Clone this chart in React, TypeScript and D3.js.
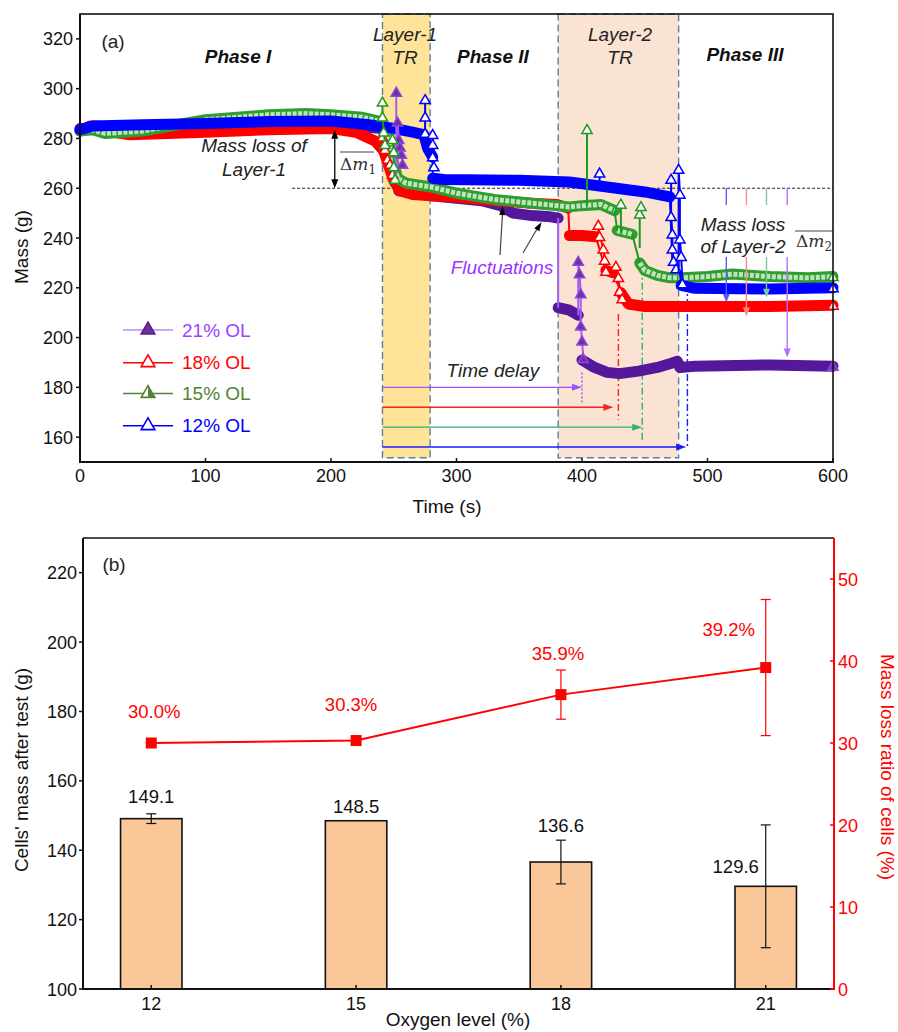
import React from "react";
import * as d3 from "d3";

type Pt = [number, number];

// ---------- panel (a): mass vs time ----------
const timeTicks = [0, 100, 200, 300, 400, 500, 600];
const massTicksA = [160, 180, 200, 220, 240, 260, 280, 300, 320];
const layer1TR: Pt = [241, 279];
const layer2TR: Pt = [381, 477];

// 21% OL
const purpleBand: Pt[][] = [
  [[0, 284], [100, 285], [200, 286], [240, 284]],
  [[254, 259], [280, 257], [320, 255], [335, 253], [345, 250], [360, 249], [375, 248.5], [381, 248]],
  [[381, 212], [390, 211], [397, 209]],
  [[400, 191], [410, 188], [420, 186], [430, 185.5], [445, 186.5], [460, 188], [470, 189.5], [476, 190.5], [478, 188], [490, 188.5], [550, 189], [600, 188.5]],
];
const purpleDrops: Pt[][] = [[[381, 248], [381, 212]]];
const purpleSpikes: Pt[][] = [
  [[252, 266], [252, 299]],
  [[253, 266], [253, 287], [254, 280], [255, 277], [256, 274], [257, 270]],
  [[397, 209], [397, 231], [398, 226], [399, 218], [399, 205], [400, 199], [401, 192]],
];

// 18% OL
const redBand: Pt[][] = [
  [[0, 283], [8, 285], [15, 285], [20, 283], [40, 281.5], [100, 282.5], [150, 283.5], [200, 284], [220, 282.5], [235, 279], [242, 275], [246, 269], [250, 263], [255, 259], [265, 257.5], [280, 257], [300, 256.5], [330, 255], [360, 254], [380, 253.5], [389, 252]],
  [[390, 241], [400, 241], [411, 240.5]],
  [[419, 227], [425, 226]],
  [[431, 218], [437, 213.5], [450, 212.5], [500, 212.5], [550, 212.5], [600, 213]],
];
const redDrops: Pt[][] = [[[389, 252], [390, 241]], [[411, 240.5], [419, 227]], [[425, 226], [431, 218]]];
const redSpikes: Pt[][] = [
  [[241, 276], [241, 281], [243, 276], [245, 272], [247, 270], [249, 266]],
  [[413, 240], [413, 245.5], [414, 241], [417, 236], [418, 231.5], [419, 227]],
  [[427, 226], [427, 229], [429, 224.5], [430, 219], [432, 216]],
];

// 15% OL
const greenBand: Pt[][] = [
  [[0, 283], [10, 283.5], [20, 282], [50, 283], [100, 287.5], [150, 289.5], [180, 290], [200, 289.5], [225, 288.5], [238, 287], [245, 282], [250, 270], [253, 264], [260, 262], [280, 260.5], [300, 258], [330, 255.5], [360, 254], [390, 252.5], [400, 253], [415, 253.5], [426, 251]],
  [[428, 243], [440, 241.5]],
  [[446, 230], [450, 227], [460, 225], [470, 224], [480, 224], [500, 224.5], [520, 225.5], [550, 224.5], [580, 224], [600, 224.5]],
];
const greenDrops: Pt[][] = [[[426, 251], [428, 243]], [[440, 241.5], [446, 230]]];
const greenSpikes: Pt[][] = [
  [[241, 287], [241, 295], [241, 289], [242, 283], [243, 278]],
  [[249, 282], [249, 280], [250, 275], [250, 269], [251, 264]],
  [[404, 253], [404, 284]],
  [[431, 242], [431, 254]],
  [[446, 236], [446, 250], [447, 253]],
];

// 12% OL
const blueBand: Pt[][] = [
  [[0, 283.5], [10, 285], [50, 285.5], [100, 286], [150, 286.8], [200, 287], [230, 285.5], [250, 284], [265, 282.5], [274, 281.5], [277, 276], [281, 272.5]],
  [[281, 264], [290, 263.5], [350, 263.2], [390, 262.5], [420, 260.5], [450, 258.5], [470, 256.5]],
  [[479, 221], [490, 219.8], [550, 219.5], [600, 220]],
];
const blueDrops: Pt[][] = [[[281, 272], [281, 264]], [[470, 256.5], [472, 230], [478, 226], [479, 221]]];
const blueSpikes: Pt[][] = [
  [[275, 281], [275, 296], [275, 289], [275, 282.5]],
  [[281, 270], [281, 282], [281, 278], [281, 273], [282, 269]],
  [[414, 261], [414, 266.5]],
  [[471, 256], [471, 264], [471, 249], [472, 242], [472, 236], [473, 231], [475, 228]],
  [[477, 226], [477, 268], [478, 258], [478, 240], [479, 233], [480, 222]],
];

// time delay arrows (21, 18, 15, 12 % OL)
const delayEnd = [400, 425, 448, 483];
const delayLevel = [180, 172, 164, 156];
const delayMarkT = [400, 429, 448, 484];
const delayMarkTop = [186, 209.5, 228, 221.5];
const delayMarkBottom = [174, 167, 158, 155.5];

// Layer-2 mass loss arrows (12, 18, 15, 21 % OL)
const dm2Time = [515, 531, 547, 563.5];
const dm2End = [214, 208.5, 216, 192];
const dm2Start = 260;

// ---------- panel (b) ----------
const oxygenLevels = [12, 15, 18, 21];
const cellMass = [149.1, 148.5, 136.6, 129.6];
const cellMassErr = [1.4, 0, 6.3, 17.7];
const lossRatio = [30.0, 30.3, 35.9, 39.2];
const lossRatioErr = [0, 0, 3.0, 8.3];
const massTicksB = [100, 120, 140, 160, 180, 200, 220];
const ratioTicks = [0, 10, 20, 30, 40, 50];

const FONT = "Liberation Sans, Arial, Helvetica, sans-serif";

function head(x1: number, y1: number, x2: number, y2: number, color: string, len = 8, wid = 6) {
  const a = Math.atan2(y2 - y1, x2 - x1);
  const bx = x2 - len * Math.cos(a);
  const by = y2 - len * Math.sin(a);
  const px = (-Math.sin(a) * wid) / 2;
  const py = (Math.cos(a) * wid) / 2;
  return <polygon points={`${x2},${y2} ${bx + px},${by + py} ${bx - px},${by - py}`} fill={color} />;
}

export default function App() {
  const xA = d3.scaleLinear().domain([0, 600]).range([80, 833]);
  const yA = d3.scaleLinear().domain([150, 330]).range([462, 14]);
  const line = d3.line<Pt>().x((d) => xA(d[0])).y((d) => yA(d[1]));
  const tri = d3.symbol().type(d3.symbolTriangle).size(46)() as string;
  const triBig = d3.symbol().type(d3.symbolTriangle).size(80)() as string;

  const series = [
    { band: purpleBand, drops: purpleDrops, spikes: purpleSpikes, color: "#56189a", thin: "#a060f0", mFill: "#7030a0", mStroke: "#8b45e0" },
    { band: redBand, drops: redDrops, spikes: redSpikes, color: "#ff0000", thin: "#ff0000", mFill: "#ffffff", mStroke: "#ff0000" },
    { band: greenBand, drops: greenDrops, spikes: greenSpikes, color: "#2f9e2f", thin: "#1f9a1f", mFill: "#ffffff", mStroke: "#1f9a1f", inner: "#bfe4bb" },
    { band: blueBand, drops: blueDrops, spikes: blueSpikes, color: "#0000ff", thin: "#0000ff", mFill: "#ffffff", mStroke: "#0000ff" },
  ];

  const legend = [
    { label: "21% OL", text: "#a040ff", line: "#c08af5", fill: "#7030a0", stroke: "#5a2090", half: false },
    { label: "18% OL", text: "#ff0000", line: "#ff0000", fill: "#ffffff", stroke: "#ff0000", half: false },
    { label: "15% OL", text: "#548235", line: "#548235", fill: "#ffffff", stroke: "#548235", half: true },
    { label: "12% OL", text: "#0000ff", line: "#0000ff", fill: "#ffffff", stroke: "#0000ff", half: false },
  ];
  const delayColors = ["#a050ff", "#ff2020", "#30b070", "#1a1aff"];
  const dm2Colors = ["#5a5aff", "#ff8a8a", "#7cc99a", "#b070ff"];

  const xB = d3.scaleLinear().domain([11, 22]).range([83, 834]);
  const yB = d3.scaleLinear().domain([100, 230]).range([989, 538]);
  const yR = d3.scaleLinear().domain([0, 55]).range([989, 538]);
  const barW = xB(0.9) - xB(0);
  const ratioLine = d3.line<number>().x((_, i) => xB(oxygenLevels[i])).y((d) => yR(d));
  const pctOffset: Pt[] = [[3, -25], [-5, -30], [-3, -35], [-37, -32]];
  const massLabelPos = (i: number): Pt =>
    i === 3 ? [xB(oxygenLevels[i]) - 30, yB(cellMass[i]) - 13] : [xB(oxygenLevels[i]), yB(cellMass[i] + cellMassErr[i]) - (i === 0 ? 11 : 8)];

  const boxBottom = yA(151.7);

  return (
    <svg width={898} height={1032} style={{ position: "absolute", left: 0, top: 0, display: "block" }} fontFamily={FONT}>
      <rect width={898} height={1032} fill="#fff" />

      {/* ===== panel (a) ===== */}
      {[layer1TR, layer2TR].map((r, i) => (
        <rect key={"trf" + i} x={xA(r[0])} y={yA(330)} width={xA(r[1]) - xA(r[0])} height={boxBottom - yA(330)} fill={i === 0 ? "#ffe399" : "#fbe3d3"} />
      ))}
      {[layer1TR, layer2TR].map((r, i) => (
        <rect key={"trb" + i} x={xA(r[0])} y={yA(330)} width={xA(r[1]) - xA(r[0])} height={boxBottom - yA(330)} fill="none" stroke="#5b7fa8" strokeWidth={1.4} strokeDasharray="7,4" />
      ))}

      {/* reference line at 260 g */}
      <line x1={xA(169)} x2={xA(600)} y1={yA(260)} y2={yA(260)} stroke="#222" strokeWidth={1} strokeDasharray="3,2" />

      {/* time delay arrows */}
      {delayEnd.map((t, i) => (
        <g key={"dl" + i}>
          <line x1={xA(layer1TR[0])} x2={xA(t) - 6} y1={yA(delayLevel[i])} y2={yA(delayLevel[i])} stroke={delayColors[i]} strokeWidth={1.4} />
          {head(xA(layer1TR[0]), yA(delayLevel[i]), xA(t), yA(delayLevel[i]), delayColors[i], 10, 7)}
          <line x1={xA(delayMarkT[i])} x2={xA(delayMarkT[i])} y1={yA(delayMarkTop[i])} y2={yA(delayMarkBottom[i])} stroke={delayColors[i]} strokeWidth={1.4} strokeDasharray={i === 0 ? "2,2" : "7,3,2,3"} />
        </g>
      ))}

      {/* series bands */}
      {series.map((s, si) => (
        <g key={"s" + si}>
          {s.band.map((seg, k) => (
            <path key={"b" + k} d={line(seg) as string} fill="none" stroke={s.color} strokeWidth={11} strokeLinejoin="round" strokeLinecap="round" />
          ))}
          {s.inner &&
            s.band.map((seg, k) => (
              <path key={"bi" + k} d={line(seg) as string} fill="none" stroke={s.inner} strokeWidth={5} strokeLinejoin="round" strokeDasharray="4,1.5" />
            ))}
          {s.drops.map((seg, k) => (
            <path key={"d" + k} d={line(seg) as string} fill="none" stroke={s.thin} strokeWidth={2} />
          ))}
        </g>
      ))}
      {series.map((s, si) => (
        <g key={"sp" + si}>
          {s.spikes.map((seg, k) => (
            <g key={"k" + k}>
              <path d={line(seg) as string} fill="none" stroke={s.thin} strokeWidth={2} />
              {seg.slice(1).map((p, j) => (
                <path key={j} d={tri} transform={`translate(${xA(p[0])},${yA(p[1]) + 2})`} fill={s.mFill} stroke={s.mStroke} strokeWidth={1.5} />
              ))}
            </g>
          ))}
          {(() => {
            const last = s.band[s.band.length - 1];
            const p = last[last.length - 1];
            return <path d={tri} transform={`translate(${xA(p[0])},${yA(p[1]) + 1})`} fill={s.mFill} stroke={s.mStroke} strokeWidth={1.5} />;
          })()}
        </g>
      ))}

      {/* Layer-2 mass loss arrows */}
      {dm2Time.map((t, i) => (
        <g key={"dm" + i}>
          <line x1={xA(t)} x2={xA(t)} y1={yA(dm2Start)} y2={yA(dm2End[i]) - 6} stroke={dm2Colors[i]} strokeWidth={1.4} />
          {head(xA(t), yA(dm2Start), xA(t), yA(dm2End[i]), dm2Colors[i], 9, 7)}
        </g>
      ))}
      <rect x={697} y={205} width={94} height={52} fill="#fff" />
      <text x={743} y={231} fontSize={19} fontStyle="italic" textAnchor="middle" fill="#222">Mass loss</text>
      <text x={743} y={253} fontSize={19} fontStyle="italic" textAnchor="middle" fill="#222">of Layer-2</text>
      <line x1={795} x2={833} y1={231} y2={231} stroke="#444" strokeWidth={1.2} />
      <text x={796} y={247} fontSize={17} fontFamily="DejaVu Serif, Liberation Serif, serif" fill="#333">
        Δ<tspan fontStyle="italic">m</tspan><tspan fontSize={12} dy={4}>2</tspan>
      </text>

      {/* Layer-1 mass loss */}
      <line x1={xA(203)} x2={xA(203)} y1={yA(283.5) + 8} y2={yA(260) - 8} stroke="#000" strokeWidth={1.3} />
      {head(xA(203), yA(260), xA(203), yA(283.5), "#000", 9, 7)}
      {head(xA(203), yA(283.5), xA(203), yA(260), "#000", 9, 7)}
      <text x={254} y={152} fontSize={19} fontStyle="italic" textAnchor="middle" fill="#222">Mass loss of</text>
      <text x={254} y={176} fontSize={19} fontStyle="italic" textAnchor="middle" fill="#222">Layer-1</text>
      <line x1={340} x2={374} y1={152} y2={152} stroke="#444" strokeWidth={1.2} />
      <text x={340} y={170} fontSize={17} fontFamily="DejaVu Serif, Liberation Serif, serif" fill="#333">
        Δ<tspan fontStyle="italic">m</tspan><tspan fontSize={12} dy={4}>1</tspan>
      </text>

      {/* fluctuations */}
      <line x1={500} y1={255} x2={502.5} y2={214} stroke="#444" strokeWidth={1.2} />
      {head(500, 255, 502.7, 206, "#000", 9, 6)}
      <line x1={523} y1={253} x2={537} y2={229} stroke="#444" strokeWidth={1.2} />
      {head(523, 253, 541.5, 222, "#000", 9, 6)}
      <text x={502} y={274} fontSize={19} fontStyle="italic" textAnchor="middle" fill="#9933ff">Fluctuations</text>
      <text x={493} y={377} fontSize={19} fontStyle="italic" textAnchor="middle" fill="#222">Time delay</text>

      {/* phase labels */}
      <text x={113} y={48} fontSize={19} textAnchor="middle" fill="#222">(a)</text>
      <text x={238} y={63} fontSize={19} fontWeight="bold" fontStyle="italic" textAnchor="middle" fill="#111">Phase I</text>
      <text x={405} y={41} fontSize={19} fontStyle="italic" textAnchor="middle" fill="#222">Layer-1</text>
      <text x={405} y={64} fontSize={19} fontStyle="italic" textAnchor="middle" fill="#222">TR</text>
      <text x={493} y={63} fontSize={19} fontWeight="bold" fontStyle="italic" textAnchor="middle" fill="#111">Phase II</text>
      <text x={620} y={41} fontSize={19} fontStyle="italic" textAnchor="middle" fill="#222">Layer-2</text>
      <text x={620} y={64} fontSize={19} fontStyle="italic" textAnchor="middle" fill="#222">TR</text>
      <text x={745} y={61} fontSize={19} fontWeight="bold" fontStyle="italic" textAnchor="middle" fill="#111">Phase III</text>

      {/* legend */}
      {legend.map((l, i) => {
        const y = [330, 362.7, 393.5, 425.7][i];
        return (
          <g key={"lg" + i}>
            <line x1={123} x2={173} y1={y} y2={y} stroke={l.line} strokeWidth={1.5} />
            <path d={triBig} transform={`translate(148,${y})`} fill={l.fill} stroke={l.stroke} strokeWidth={1.6} />
            {l.half && <path d="M148,-7.2 L154.6,4.2 L148,4.2 Z" transform={`translate(0,${y})`} fill={l.stroke} />}
            <text x={182} y={y + 6.5} fontSize={19} fill={l.text}>{l.label}</text>
          </g>
        );
      })}

      {/* axes (a) */}
      <rect x={80} y={14} width={753} height={448} fill="none" stroke="#111" strokeWidth={1.6} />
      <line x1={80} x2={80} y1={14} y2={463} stroke="#111" strokeWidth={2} />
      <line x1={79} x2={834} y1={462} y2={462} stroke="#111" strokeWidth={2} />
      {timeTicks.map((t) => (
        <g key={"xt" + t}>
          <line x1={xA(t)} x2={xA(t)} y1={462} y2={458} stroke="#111" strokeWidth={1.5} />
          <text x={xA(t)} y={482} fontSize={18} textAnchor="middle" fill="#111">{t}</text>
        </g>
      ))}
      {massTicksA.map((m) => (
        <g key={"yt" + m}>
          <line x1={76} x2={80} y1={yA(m)} y2={yA(m)} stroke="#111" strokeWidth={1.5} />
          <text x={73} y={yA(m) + 6.5} fontSize={18} textAnchor="end" fill="#111">{m}</text>
        </g>
      ))}
      <text x={447} y={513} fontSize={19} textAnchor="middle" fill="#111">Time (s)</text>
      <text transform="translate(28,247) rotate(-90)" fontSize={19} textAnchor="middle" fill="#111">Mass (g)</text>

      {/* ===== panel (b) ===== */}
      {oxygenLevels.map((o, i) => (
        <rect key={"bar" + i} x={xB(o) - barW / 2} y={yB(cellMass[i])} width={barW} height={yB(100) - yB(cellMass[i])} fill="#fac898" stroke="#111" strokeWidth={1.6} />
      ))}
      {oxygenLevels.map((o, i) =>
        cellMassErr[i] > 0 ? (
          <g key={"be" + i} stroke="#111" strokeWidth={1.2}>
            <line x1={xB(o)} x2={xB(o)} y1={yB(cellMass[i] + cellMassErr[i])} y2={yB(cellMass[i] - cellMassErr[i])} />
            <line x1={xB(o) - 5} x2={xB(o) + 5} y1={yB(cellMass[i] + cellMassErr[i])} y2={yB(cellMass[i] + cellMassErr[i])} />
            <line x1={xB(o) - 5} x2={xB(o) + 5} y1={yB(cellMass[i] - cellMassErr[i])} y2={yB(cellMass[i] - cellMassErr[i])} />
          </g>
        ) : null
      )}
      {cellMass.map((m, i) => {
        const [lx, ly] = massLabelPos(i);
        return (
          <text key={"bl" + i} x={lx} y={ly} fontSize={18.5} textAnchor="middle" fill="#111">{m.toFixed(1)}</text>
        );
      })}

      <path d={ratioLine(lossRatio) as string} fill="none" stroke="#ff0000" strokeWidth={2} />
      {oxygenLevels.map((o, i) =>
        lossRatioErr[i] > 0 ? (
          <g key={"re" + i} stroke="#ff0000" strokeWidth={1.2}>
            <line x1={xB(o)} x2={xB(o)} y1={yR(lossRatio[i] + lossRatioErr[i])} y2={yR(lossRatio[i] - lossRatioErr[i])} />
            <line x1={xB(o) - 5} x2={xB(o) + 5} y1={yR(lossRatio[i] + lossRatioErr[i])} y2={yR(lossRatio[i] + lossRatioErr[i])} />
            <line x1={xB(o) - 5} x2={xB(o) + 5} y1={yR(lossRatio[i] - lossRatioErr[i])} y2={yR(lossRatio[i] - lossRatioErr[i])} />
          </g>
        ) : null
      )}
      {oxygenLevels.map((o, i) => (
        <rect key={"rm" + i} x={xB(o) - 5.5} y={yR(lossRatio[i]) - 5.5} width={11} height={11} fill="#ff0000" />
      ))}
      {lossRatio.map((r, i) => (
        <text key={"rl" + i} x={xB(oxygenLevels[i]) + pctOffset[i][0]} y={yR(r) + pctOffset[i][1]} fontSize={18.5} textAnchor="middle" fill="#ff0000">
          {r.toFixed(1)}%
        </text>
      ))}

      {/* axes (b) */}
      <line x1={83} x2={834} y1={538} y2={538} stroke="#111" strokeWidth={1.6} />
      <line x1={83} x2={83} y1={538} y2={990} stroke="#111" strokeWidth={2} />
      <line x1={82} x2={834} y1={989} y2={989} stroke="#111" strokeWidth={2} />
      <line x1={834} x2={834} y1={538} y2={990} stroke="#ff0000" strokeWidth={2} />
      {oxygenLevels.map((o) => (
        <g key={"bx" + o}>
          <line x1={xB(o)} x2={xB(o)} y1={989} y2={985} stroke="#111" strokeWidth={1.5} />
          <text x={xB(o)} y={1010} fontSize={18} textAnchor="middle" fill="#111">{o}</text>
        </g>
      ))}
      {massTicksB.map((m) => (
        <g key={"by" + m}>
          <line x1={79} x2={83} y1={yB(m)} y2={yB(m)} stroke="#111" strokeWidth={1.5} />
          <text x={77} y={yB(m) + 6.5} fontSize={18} textAnchor="end" fill="#111">{m}</text>
        </g>
      ))}
      {ratioTicks.map((r) => (
        <g key={"ry" + r}>
          <line x1={830} x2={834} y1={yR(r)} y2={yR(r)} stroke="#ff0000" strokeWidth={1.5} />
          <text x={838} y={yR(r) + 6.5} fontSize={18} textAnchor="start" fill="#ff0000">{r}</text>
        </g>
      ))}
      <text x={114} y={571} fontSize={19} textAnchor="middle" fill="#222">(b)</text>
      <text x={458} y={1026} fontSize={19} textAnchor="middle" fill="#111">Oxygen level (%)</text>
      <text transform="translate(28,770) rotate(-90)" fontSize={19} textAnchor="middle" fill="#111">Cells' mass after test (g)</text>
      <text transform="translate(881,767) rotate(90)" fontSize={19} textAnchor="middle" fill="#ff0000">Mass loss ratio of cells (%)</text>
    </svg>
  );
}
